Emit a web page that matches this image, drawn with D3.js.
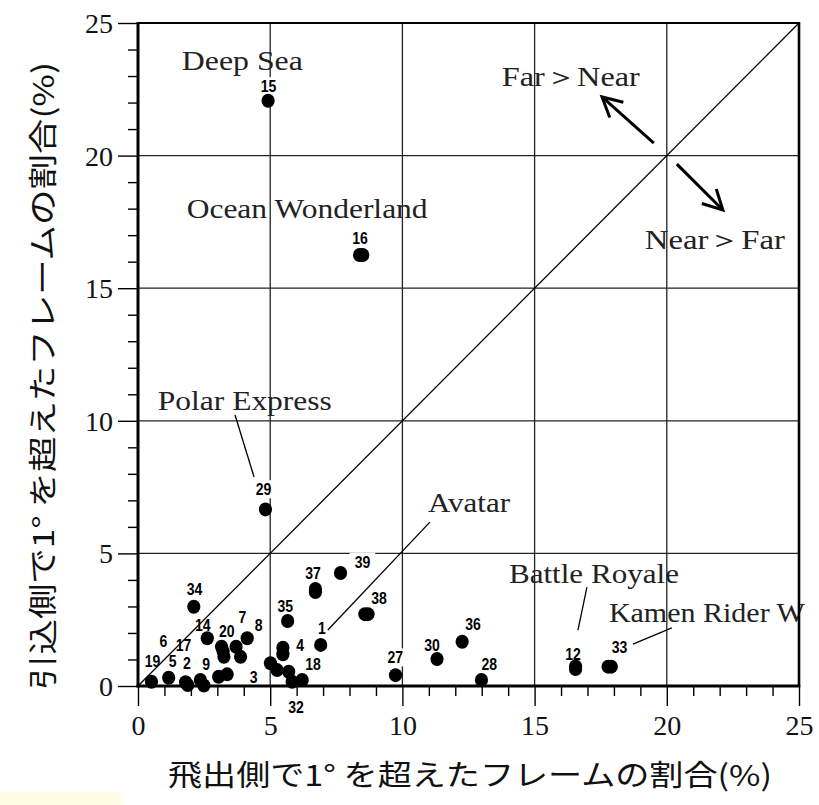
<!DOCTYPE html>
<html><head><meta charset="utf-8">
<script src="https://cdn.jsdelivr.net/npm/d3@7/dist/d3.min.js"></script>
<style>html,body{margin:0;padding:0;background:#fff;} svg{display:block;}</style>
</head><body>
<svg id="chart" width="819" height="805"></svg>
<script>
// ---- data ----
const pointIds = [15,16,16,29,34,37,37,39,38,38,35,1,36,30,27,28,12,12,33,33,14,7,
  20,20,20,20,20,4,4,18,18,18,18,18,19,5,2,2,9,9,3,3];
const pointX = [4.92,8.38,8.50,4.82,2.11,6.71,6.71,7.66,8.58,8.70,5.66,6.91,12.26,11.31,9.74,12.99,16.55,16.55,17.78,17.90,2.62,4.13,
  3.16,3.22,3.25,3.71,3.88,5.48,5.48,5.01,5.26,5.70,6.21,5.83,0.51,1.16,1.80,1.88,2.36,2.49,3.05,3.37];
const pointY = [22.07,16.25,16.25,6.66,2.99,3.54,3.66,4.26,2.71,2.71,2.45,1.55,1.67,1.02,0.41,0.23,0.64,0.74,0.73,0.73,1.80,1.80,
  1.48,1.30,1.10,1.48,1.10,1.44,1.20,0.86,0.60,0.54,0.23,0.16,0.16,0.31,0.14,0.04,0.23,0.02,0.35,0.44];

const numLabels = ["34","37","35","14","20","7","8","6","17","1","4","19","5","2","9","18","3",
  "39","38","36","30","27","28","12","33","15","16","29","32"];
const numLabelX = [2.14,6.62,5.57,2.45,3.36,3.95,4.56,0.96,1.72,6.96,6.13,0.55,1.31,1.85,2.58,6.62,4.37,
  8.49,9.12,12.67,11.12,9.73,13.29,16.45,18.21,4.94,8.40,4.75,5.98];
const numLabelY = [3.65,4.25,3.02,2.30,2.09,2.61,2.30,1.70,1.55,2.21,1.55,0.95,0.95,0.86,0.83,0.83,0.35,
  4.69,3.34,2.33,1.55,1.08,0.83,1.23,1.48,22.62,16.88,7.42,-0.79];

const xTickLabels = [0,5,10,15,20,25];
const yTickLabels = [0,5,10,15,20,25];
const xTitle = "飛出側で1° を超えたフレームの割合(%)";
const yTitle = "引込側で1° を超えたフレームの割合(%)";

const noteText = ["Deep Sea","Ocean Wonderland","Polar Express","Avatar","Battle Royale","Kamen Rider W","Far＞Near","Near＞Far"];
const noteX = [1.66,1.84,0.75,10.97,14.03,17.81,13.76,19.17];
const noteY = [23.23,17.65,10.41,6.56,3.88,2.41,22.62,16.48];
const noteWidth = [121,241,174,82,170,196,138,140];

// leader lines [x1,y1,x2,y2] in data units
const leaders = [[3.67,10.22,4.39,7.88],[11.04,6.18,7.18,2.11],[16.98,3.73,16.64,2.11],[20.19,2.19,18.72,1.58]];
// arrows tail->tip in data units
const arrows = [[19.51,20.47,17.55,22.21],[20.38,19.68,22.12,17.95]];

// ---- layout ----
const svg = d3.select("#chart");
const x = d3.scaleLinear().domain([0,25]).range([138,799]);
const y = d3.scaleLinear().domain([0,25]).range([686,23]);

svg.append("rect").attr("x",0).attr("y",792).attr("width",121).attr("height",13).attr("fill","#fffde3");

// grid
const g = svg.append("g");
[5,10,15,20].forEach(v=>{
  g.append("line").attr("x1",x(v)).attr("x2",x(v)).attr("y1",y(0)).attr("y2",y(25)).attr("stroke","#222").attr("stroke-width",1.3);
  g.append("line").attr("x1",x(0)).attr("x2",x(25)).attr("y1",y(v)).attr("y2",y(v)).attr("stroke","#222").attr("stroke-width",1.3);
});

// axes ticks
const minor = d3.range(0,26).filter(v=>v%5!==0);
const axB = svg.append("g").attr("transform",`translate(0,${y(0)})`)
  .call(d3.axisBottom(x).tickValues(xTickLabels).tickSize(20).tickPadding(20).tickFormat(d3.format("d")));
svg.append("g").attr("transform",`translate(0,${y(0)})`)
  .call(d3.axisBottom(x).tickValues(minor).tickSize(10).tickFormat(""));
const axL = svg.append("g").attr("transform",`translate(${x(0)},0)`)
  .call(d3.axisLeft(y).tickValues(yTickLabels).tickSize(20).tickPadding(6).tickFormat(d3.format("d")));
svg.append("g").attr("transform",`translate(${x(0)},0)`)
  .call(d3.axisLeft(y).tickValues(minor).tickSize(10).tickFormat(""));
svg.selectAll(".domain").remove();
svg.selectAll(".tick line").attr("stroke","#000").attr("stroke-width",1.4);
svg.selectAll(".tick text").attr("font-family","'Liberation Serif','Times New Roman',serif")
  .attr("font-size",28).attr("fill","#111");
axB.selectAll(".tick text").attr("dy","0.71em").attr("y",29);
axL.selectAll(".tick text").attr("x",-25).attr("dy","0.34em");

// number label backgrounds
const lb = svg.append("g");
numLabels.forEach((t,i)=>{
  const w = t.length*7.8;
  lb.append("rect").attr("x",x(numLabelX[i])-w/2-5).attr("y",y(numLabelY[i])-9)
    .attr("width",w+10).attr("height",18).attr("fill","#fff");
});

// diagonal
svg.append("line").attr("x1",x(0)).attr("y1",y(0)).attr("x2",x(25)).attr("y2",y(25))
  .attr("stroke","#000").attr("stroke-width",1.3);

// leaders
leaders.forEach(l=>{
  svg.append("line").attr("x1",x(l[0])).attr("y1",y(l[1])).attr("x2",x(l[2])).attr("y2",y(l[3]))
    .attr("stroke","#000").attr("stroke-width",1.3);
});

// arrows
arrows.forEach(a=>{
  const x1=x(a[0]),y1=y(a[1]),x2=x(a[2]),y2=y(a[3]);
  const ang = Math.atan2(y1-y2,x1-x2);
  const L=22, h=Math.PI/6.5;
  svg.append("line").attr("x1",x1).attr("y1",y1).attr("x2",x2).attr("y2",y2).attr("stroke","#000").attr("stroke-width",3);
  svg.append("path").attr("d",`M${x2+L*Math.cos(ang+h)},${y2+L*Math.sin(ang+h)}L${x2},${y2}L${x2+L*Math.cos(ang-h)},${y2+L*Math.sin(ang-h)}`)
    .attr("fill","none").attr("stroke","#000").attr("stroke-width",3);
});

// points
svg.append("g").selectAll("ellipse").data(pointX.map((v,i)=>({x:v,y:pointY[i],id:pointIds[i]})))
  .join("ellipse").attr("cx",d=>x(d.x)).attr("cy",d=>y(d.y)).attr("rx",6.6).attr("ry",7).attr("fill","#000");

// number labels
numLabels.forEach((t,i)=>{
  svg.append("text").attr("x",x(numLabelX[i])).attr("y",y(numLabelY[i])).attr("dy","0.36em")
    .attr("text-anchor","middle").attr("font-family","'Liberation Sans Narrow','Arial Narrow','Liberation Sans',sans-serif")
    .attr("font-size",17).attr("font-weight","bold").attr("fill","#000")
    .attr("textLength",t.length*7.8).attr("lengthAdjust","spacingAndGlyphs").text(t);
});

// annotations
noteText.forEach((t,i)=>{
  svg.append("text").attr("x",x(noteX[i])).attr("y",y(noteY[i]))
    .attr("font-family","'Liberation Serif','Times New Roman',serif").attr("font-size",28).attr("fill","#222")
    .attr("textLength",noteWidth[i]).attr("lengthAdjust","spacingAndGlyphs").text(t);
});

// frame
svg.append("line").attr("x1",x(0)).attr("x2",x(25)).attr("y1",y(25)).attr("y2",y(25)).attr("stroke","#000").attr("stroke-width",1.8);
svg.append("line").attr("x1",x(25)).attr("x2",x(25)).attr("y1",y(25)-1).attr("y2",y(0)).attr("stroke","#000").attr("stroke-width",2.6);
svg.append("line").attr("x1",x(0)).attr("x2",x(0)).attr("y1",y(25)-1).attr("y2",y(0)+1.5).attr("stroke","#000").attr("stroke-width",3);
svg.append("line").attr("x1",x(0)-1.5).attr("x2",x(25)+1.3).attr("y1",y(0)).attr("y2",y(0)).attr("stroke","#000").attr("stroke-width",3);

// axis titles
svg.append("text").attr("x",470).attr("y",776).attr("dy","0.35em").attr("text-anchor","middle")
  .attr("font-family","'Noto Sans CJK JP',sans-serif").attr("font-size",29).attr("fill","#111")
  .attr("textLength",604).attr("lengthAdjust","spacingAndGlyphs").text(xTitle);
svg.append("text").attr("transform","translate(44,376) rotate(-90)").attr("dy","0.35em").attr("text-anchor","middle")
  .attr("font-family","'Noto Sans CJK JP',sans-serif").attr("font-size",29).attr("fill","#111")
  .attr("textLength",628).attr("lengthAdjust","spacingAndGlyphs").text(yTitle);
</script>
</body></html>
